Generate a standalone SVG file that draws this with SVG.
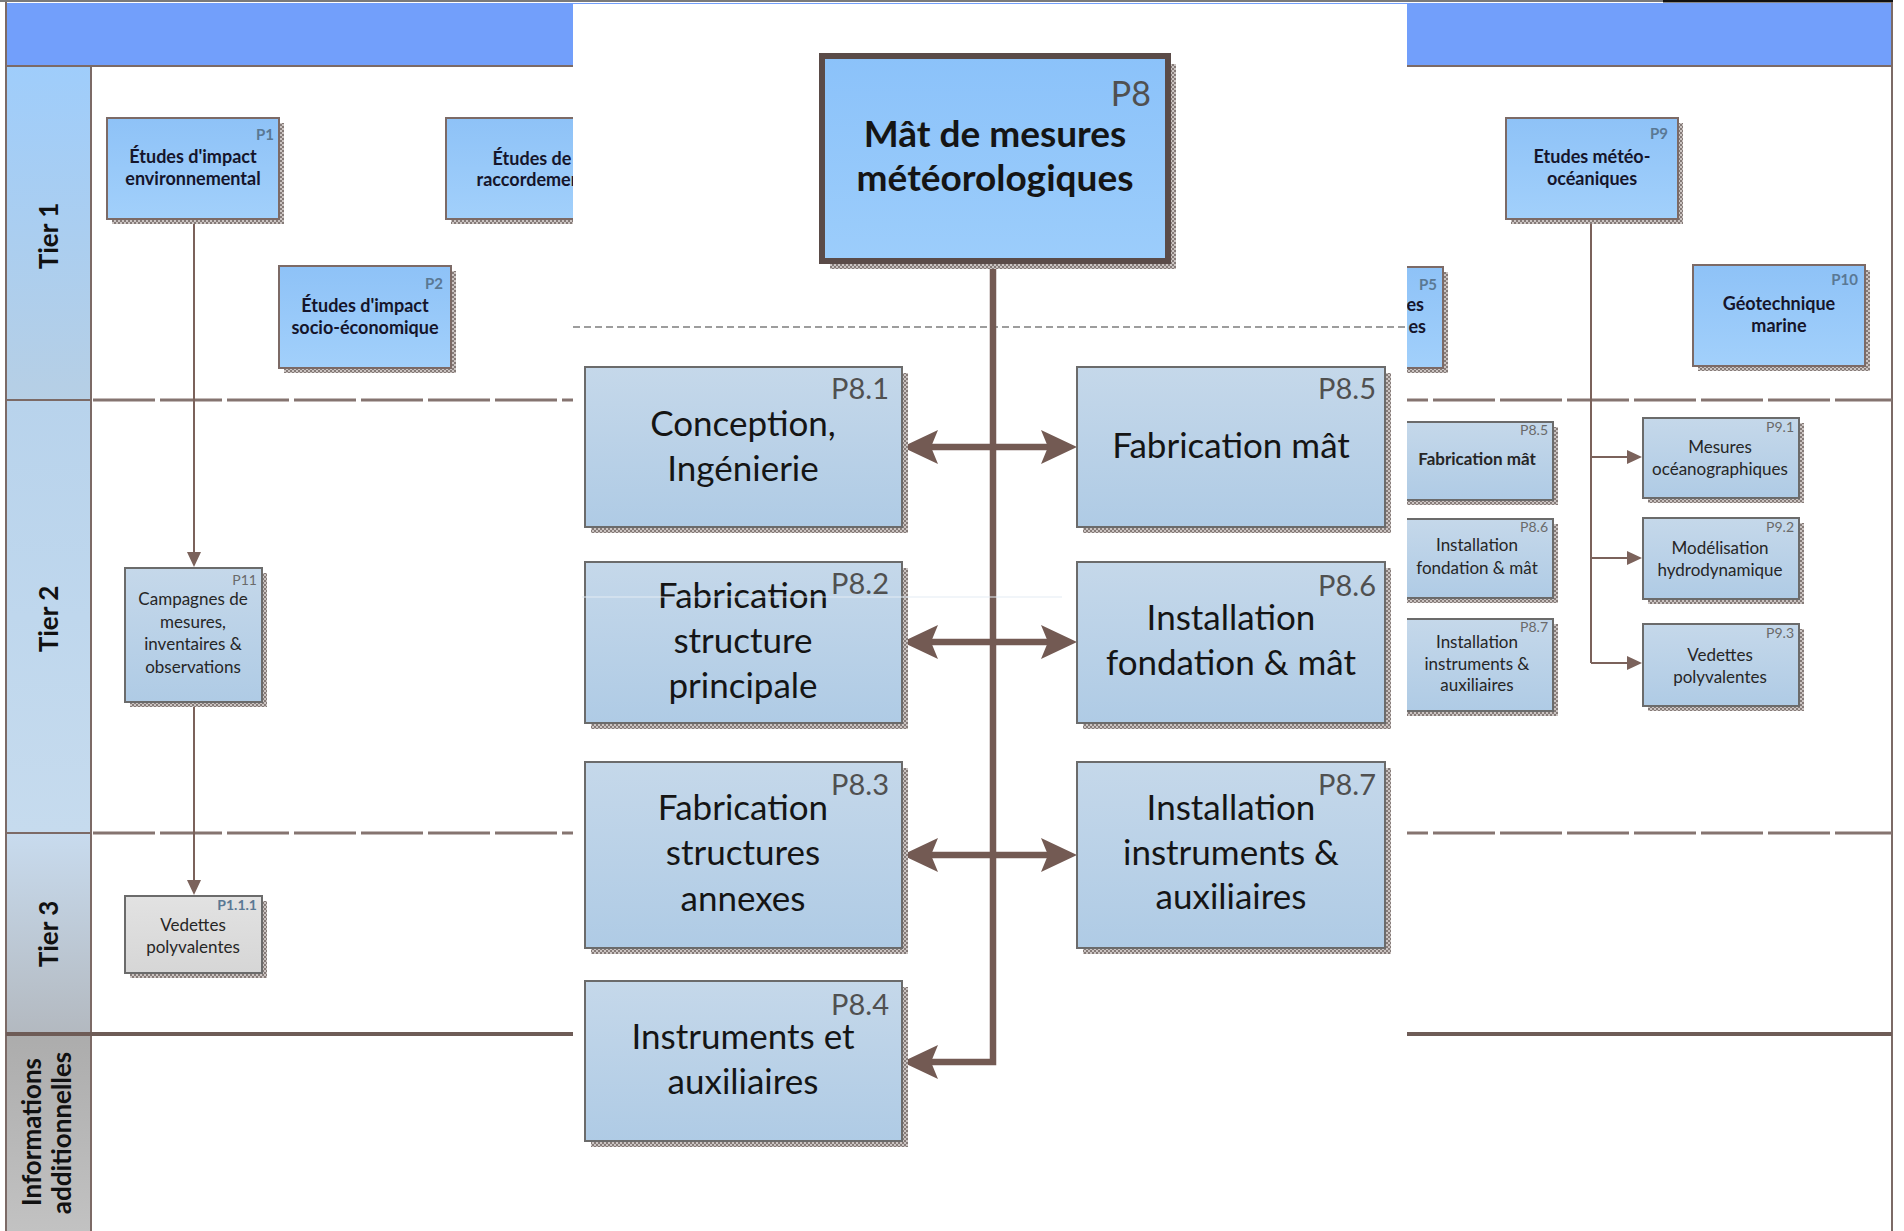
<svg xmlns="http://www.w3.org/2000/svg" width="1904" height="1231" viewBox="0 0 1904 1231">
<style>
text{font-family:Lato,"Liberation Sans","DejaVu Sans",sans-serif}
.bb{fill:url(#gBlue);stroke:#7c6a66;stroke-width:2}
.sb{fill:url(#gSub);stroke:#6b6b6b;stroke-width:2}
.gb{fill:url(#gGray);stroke:#6b6b6b;stroke-width:2}
.p8{fill:url(#gP8);stroke:#5a4b48;stroke-width:6}
.sh{fill:url(#hatch)}
.tb{font-weight:bold;font-size:18px;fill:#15152b;text-anchor:middle}
.lb{font-weight:bold;font-size:15px;fill:#5a7894;text-anchor:end}
.ts{font-size:17px;fill:#262626;text-anchor:middle}
.ls{font-size:14px;fill:#6a6a6a;text-anchor:end}
.tp{font-size:35px;fill:#151515;text-anchor:middle}
.lp{font-size:29px;fill:#505050;text-anchor:end}
.tier{font-weight:bold;font-size:26px;fill:#111;text-anchor:middle}
.conn{fill:none;stroke:#7b625b;stroke-width:2}
.big{fill:none;stroke:#735a53;stroke-width:6.5}
.lane{stroke:#7c6a66;stroke-width:2;fill:none}
.dash{stroke:#857470;stroke-width:3;stroke-dasharray:62 5;fill:none}
</style>
<defs>
<linearGradient id="gBlue" x1="0" y1="0" x2="0" y2="1"><stop offset="0" stop-color="#8ec2f7"/><stop offset="1" stop-color="#a2d0fb"/></linearGradient>
<linearGradient id="gSub" x1="0" y1="0" x2="0" y2="1"><stop offset="0" stop-color="#c5d8ea"/><stop offset="1" stop-color="#afcbe5"/></linearGradient>
<linearGradient id="gGray" x1="0" y1="0" x2="0" y2="1"><stop offset="0" stop-color="#e2e2e2"/><stop offset="1" stop-color="#d6d6d6"/></linearGradient>
<linearGradient id="gP8" x1="0" y1="0" x2="0" y2="1"><stop offset="0" stop-color="#8bc2fa"/><stop offset="1" stop-color="#9ccdfb"/></linearGradient>
<linearGradient id="gT1" x1="0" y1="0" x2="0" y2="1"><stop offset="0" stop-color="#9fcdfb"/><stop offset="1" stop-color="#b6cfe5"/></linearGradient>
<linearGradient id="gT2" x1="0" y1="0" x2="0" y2="1"><stop offset="0" stop-color="#b8d3ec"/><stop offset="1" stop-color="#c6dbee"/></linearGradient>
<linearGradient id="gT3" x1="0" y1="0" x2="0" y2="1"><stop offset="0" stop-color="#c8dbee"/><stop offset="1" stop-color="#b3b9c0"/></linearGradient>
<linearGradient id="gT4" x1="0" y1="0" x2="0" y2="1"><stop offset="0" stop-color="#acacac"/><stop offset="1" stop-color="#c2c2c2"/></linearGradient>
<pattern id="hatch" width="4" height="4" patternUnits="userSpaceOnUse">
<rect width="4" height="4" fill="#cbc4c2"/><rect width="2" height="2" fill="#857b78"/><rect x="2" y="2" width="2" height="2" fill="#857b78"/>
</pattern>
<marker id="ah" markerUnits="userSpaceOnUse" viewBox="-40 -20 44 40" markerWidth="44" markerHeight="40" refX="-20" refY="0" orient="auto-start-reverse">
<path d="M0,0 L-36,-17 L-29,0 L-36,17 Z" fill="#735a53"/>
</marker>
<marker id="as" markerUnits="userSpaceOnUse" viewBox="-16 -8 18 16" markerWidth="18" markerHeight="16" refX="-8" refY="0" orient="auto">
<path d="M0,0 L-15,-7 L-15,7 Z" fill="#7b625b"/>
</marker>
</defs>

<rect width="1904" height="1231" fill="#ffffff"/>

<g id="frame">
<line x1="0" y1="1" x2="1663" y2="1" stroke="#7a7a7a" stroke-width="2"/>
<rect x="1663" y="0" width="230" height="2.5" fill="#111"/>
<rect x="6" y="3" width="1886" height="63" fill="#729ffb"/>
<rect x="6" y="66" width="85" height="334" fill="url(#gT1)"/>
<rect x="6" y="400" width="85" height="433" fill="url(#gT2)"/>
<rect x="6" y="833" width="85" height="200" fill="url(#gT3)"/>
<rect x="6" y="1033" width="85" height="198" fill="url(#gT4)"/>
<line class="lane" x1="6" y1="66" x2="1892" y2="66"/>
<line class="lane" x1="6" y1="2" x2="6" y2="1231"/>
<line class="lane" x1="1892" y1="2" x2="1892" y2="1231" stroke-width="2.5"/>
<line class="lane" x1="91" y1="66" x2="91" y2="1231"/>
<line class="lane" x1="6" y1="400" x2="91" y2="400"/>
<line class="lane" x1="6" y1="833" x2="91" y2="833"/>
<line class="dash" x1="93" y1="400" x2="1892" y2="400"/>
<line class="dash" x1="93" y1="833" x2="1892" y2="833"/>
<line x1="6" y1="1034" x2="1892" y2="1034" stroke="#6e5c57" stroke-width="4"/>
</g>

<g id="lane-labels">
<text class="tier" transform="translate(58,236) rotate(-90)">Tier 1</text>
<text class="tier" transform="translate(58,619) rotate(-90)">Tier 2</text>
<text class="tier" transform="translate(58,934) rotate(-90)">Tier 3</text>
<text class="tier" transform="translate(41,1132) rotate(-90)">Informations</text>
<text class="tier" transform="translate(71,1133) rotate(-90)">additionnelles</text>
</g>

<g id="connectors">
<path class="conn" d="M194,220 V559" marker-end="url(#as)"/>
<path class="conn" d="M194,702 V887" marker-end="url(#as)"/>
<path class="conn" d="M1591,220 V663"/>
<path class="conn" d="M1591,457 H1634" marker-end="url(#as)"/>
<path class="conn" d="M1591,558 H1634" marker-end="url(#as)"/>
<path class="conn" d="M1591,663 H1634" marker-end="url(#as)"/>
</g>

<g id="node-P1">
<rect class="sh" x="112" y="123" width="172" height="101"/>
<rect class="bb" x="107" y="118" width="172" height="101"/>
<text class="lb" x="274" y="140">P1</text>
<text class="tb" x="193" y="163">Études d'impact</text>
<text class="tb" x="193" y="185">environnemental</text>
</g>
<g id="node-P3">
<rect class="sh" x="451" y="123" width="173" height="101"/>
<rect class="bb" x="446" y="118" width="173" height="101"/>
<text class="tb" x="532" y="165">Études de</text>
<text class="tb" x="532" y="186">raccordement</text>
</g>
<g id="node-P2">
<rect class="sh" x="284" y="271" width="172" height="102"/>
<rect class="bb" x="279" y="266" width="172" height="102"/>
<text class="lb" x="443" y="289">P2</text>
<text class="tb" x="365" y="312">Études d'impact</text>
<text class="tb" x="365" y="334">socio-économique</text>
</g>
<g id="node-P5">
<rect class="sh" x="1275" y="272" width="173" height="101"/>
<rect class="bb" x="1270" y="267" width="173" height="101"/>
<text class="lb" x="1437" y="290">P5</text>
<text class="tb" x="1424" y="311" style="text-anchor:end">es</text>
<text class="tb" x="1426" y="333" style="text-anchor:end">es</text>
</g>
<g id="node-P9">
<rect class="sh" x="1511" y="123" width="172" height="101"/>
<rect class="bb" x="1506" y="118" width="172" height="101"/>
<text class="lb" x="1668" y="139">P9</text>
<text class="tb" x="1592" y="163">Etudes météo-</text>
<text class="tb" x="1592" y="185">océaniques</text>
</g>
<g id="node-P10">
<rect class="sh" x="1698" y="270" width="172" height="101"/>
<rect class="bb" x="1693" y="265" width="172" height="101"/>
<text class="lb" x="1858" y="285">P10</text>
<text class="tb" x="1779" y="310">Géotechnique</text>
<text class="tb" x="1779" y="332">marine</text>
</g>
<g id="node-P11">
<rect class="sh" x="130" y="573" width="137" height="134"/>
<rect class="sb" x="125" y="568" width="137" height="134"/>
<text class="ls" x="257" y="585">P11</text>
<text class="ts" x="193" y="605">Campagnes de</text>
<text class="ts" x="193" y="628">mesures,</text>
<text class="ts" x="193" y="650">inventaires &amp;</text>
<text class="ts" x="193" y="673">observations</text>
</g>
<g id="node-P1-1-1">
<rect class="sh" x="130" y="901" width="137" height="77"/>
<rect class="gb" x="125" y="896" width="137" height="77"/>
<text class="lb" x="257" y="910" style="font-size:14px">P1.1.1</text>
<text class="ts" x="193" y="931">Vedettes</text>
<text class="ts" x="193" y="953">polyvalentes</text>
</g>
<g id="node-P8-5-small">
<rect class="sh" x="1405" y="427" width="153" height="78"/>
<rect class="sb" x="1400" y="422" width="153" height="78"/>
<text class="ls" x="1548" y="435">P8.5</text>
<text class="ts" x="1477" y="465" style="font-weight:bold">Fabrication mât</text>
</g>
<g id="node-P8-6-small">
<rect class="sh" x="1405" y="524" width="153" height="79"/>
<rect class="sb" x="1400" y="519" width="153" height="79"/>
<text class="ls" x="1548" y="532">P8.6</text>
<text class="ts" x="1477" y="551">Installation</text>
<text class="ts" x="1477" y="574">fondation &amp; mât</text>
</g>
<g id="node-P8-7-small">
<rect class="sh" x="1405" y="624" width="153" height="92"/>
<rect class="sb" x="1400" y="619" width="153" height="92"/>
<text class="ls" x="1548" y="632">P8.7</text>
<text class="ts" x="1477" y="648">Installation</text>
<text class="ts" x="1477" y="670">instruments &amp;</text>
<text class="ts" x="1477" y="691">auxiliaires</text>
</g>
<g id="node-P9-1">
<rect class="sh" x="1648" y="423" width="156" height="80"/>
<rect class="sb" x="1643" y="418" width="156" height="80"/>
<text class="ls" x="1794" y="432">P9.1</text>
<text class="ts" x="1720" y="453">Mesures</text>
<text class="ts" x="1720" y="475">océanographiques</text>
</g>
<g id="node-P9-2">
<rect class="sh" x="1648" y="523" width="156" height="81"/>
<rect class="sb" x="1643" y="518" width="156" height="81"/>
<text class="ls" x="1794" y="532">P9.2</text>
<text class="ts" x="1720" y="554">Modélisation</text>
<text class="ts" x="1720" y="576">hydrodynamique</text>
</g>
<g id="node-P9-3">
<rect class="sh" x="1648" y="629" width="156" height="82"/>
<rect class="sb" x="1643" y="624" width="156" height="82"/>
<text class="ls" x="1794" y="638">P9.3</text>
<text class="ts" x="1720" y="661">Vedettes</text>
<text class="ts" x="1720" y="683">polyvalentes</text>
</g>

<rect id="panel" x="573" y="4" width="834" height="1227" fill="#ffffff"/>
<line x1="573" y1="327" x2="1407" y2="327" stroke="#7d7d7d" stroke-width="1.5" stroke-dasharray="7 4"/>

<g id="panel-connectors">
<path class="big" d="M993,261 V1062 H922" marker-end="url(#ah)"/>
<path class="big" d="M922,447 H1057" marker-start="url(#ah)" marker-end="url(#ah)"/>
<path class="big" d="M922,642 H1057" marker-start="url(#ah)" marker-end="url(#ah)"/>
<path class="big" d="M922,855 H1057" marker-start="url(#ah)" marker-end="url(#ah)"/>
</g>

<g id="node-P8">
<rect class="sh" x="830" y="64" width="346" height="205"/>
<rect class="p8" x="822" y="56" width="346" height="205"/>
<text class="lp" x="1151" y="106" style="font-size:34px">P8</text>
<text class="tp" x="995" y="147" style="font-weight:bold;font-size:37px">Mât de mesures</text>
<text class="tp" x="995" y="191" style="font-weight:bold;font-size:37px">météorologiques</text>
</g>
<g id="node-P8-1">
<rect class="sh" x="591" y="373" width="317" height="160"/>
<rect class="sb" x="585" y="367" width="317" height="160"/>
<text class="lp" x="889" y="399">P8.1</text>
<text class="tp" x="743" y="436">Conception,</text>
<text class="tp" x="743" y="481">Ingénierie</text>
</g>
<g id="node-P8-5">
<rect class="sh" x="1083" y="373" width="308" height="160"/>
<rect class="sb" x="1077" y="367" width="308" height="160"/>
<text class="lp" x="1376" y="399">P8.5</text>
<text class="tp" x="1231" y="458">Fabrication mât</text>
</g>
<g id="node-P8-2">
<rect class="sh" x="591" y="568" width="317" height="161"/>
<rect class="sb" x="585" y="562" width="317" height="161"/>
<text class="lp" x="889" y="594">P8.2</text>
<text class="tp" x="743" y="608">Fabrication</text>
<text class="tp" x="743" y="653">structure</text>
<text class="tp" x="743" y="698">principale</text>
</g>
<g id="node-P8-6">
<rect class="sh" x="1083" y="568" width="308" height="161"/>
<rect class="sb" x="1077" y="562" width="308" height="161"/>
<text class="lp" x="1376" y="596">P8.6</text>
<text class="tp" x="1231" y="630">Installation</text>
<text class="tp" x="1231" y="675">fondation &amp; mât</text>
</g>
<g id="node-P8-3">
<rect class="sh" x="591" y="768" width="317" height="186"/>
<rect class="sb" x="585" y="762" width="317" height="186"/>
<text class="lp" x="889" y="795">P8.3</text>
<text class="tp" x="743" y="820">Fabrication</text>
<text class="tp" x="743" y="865">structures</text>
<text class="tp" x="743" y="911">annexes</text>
</g>
<g id="node-P8-7">
<rect class="sh" x="1083" y="768" width="308" height="186"/>
<rect class="sb" x="1077" y="762" width="308" height="186"/>
<text class="lp" x="1376" y="795">P8.7</text>
<text class="tp" x="1231" y="820">Installation</text>
<text class="tp" x="1231" y="865">instruments &amp;</text>
<text class="tp" x="1231" y="909">auxiliaires</text>
</g>
<g id="node-P8-4">
<rect class="sh" x="591" y="987" width="317" height="160"/>
<rect class="sb" x="585" y="981" width="317" height="160"/>
<text class="lp" x="889" y="1015">P8.4</text>
<text class="tp" x="743" y="1049">Instruments et</text>
<text class="tp" x="743" y="1094">auxiliaires</text>
</g>
<line x1="582" y1="597" x2="1062" y2="597" stroke="#e4ecf4" stroke-width="1.2"/>
</svg>
